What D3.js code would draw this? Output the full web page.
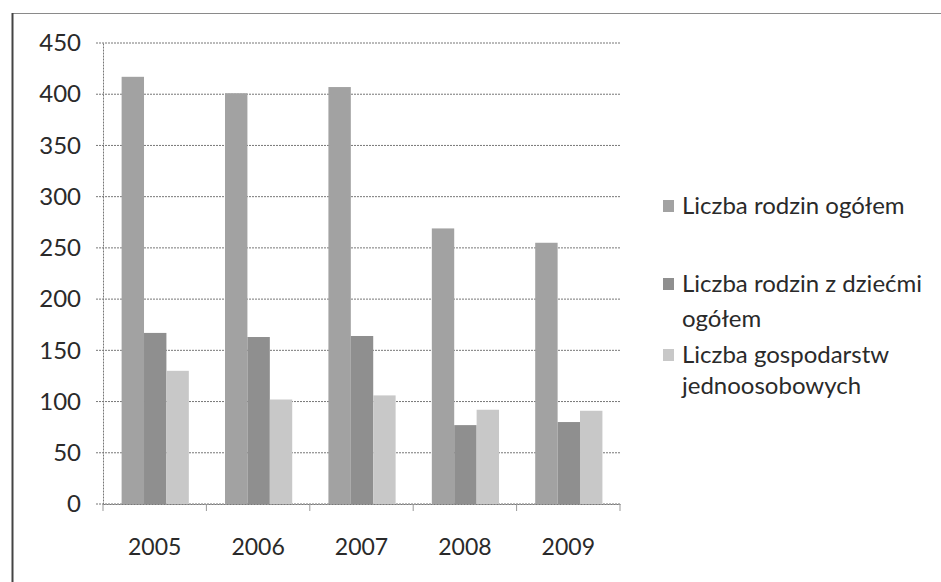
<!DOCTYPE html>
<html>
<head>
<meta charset="utf-8">
<script src="https://cdn.jsdelivr.net/npm/d3@7"></script>
<style>
  body { margin: 0; background: #fff; }
  text { font-family: Lato, "Open Sans", sans-serif; fill: #2a2a2a; }
</style>
</head>
<body>
<div id="chart"></div>
<script>
// Chart size
var svgWidth = 941;
var svgHeight = 582;

// data
var years = ["2005", "2006", "2007", "2008", "2009"];
var seriesNames = ["Liczba rodzin ogółem", "Liczba rodzin z dziećmi ogółem", "Liczba gospodarstw jednoosobowych"];
var rodziny = [417, 401, 407, 269, 255];
var rodzinyDzieci = [167, 163, 164, 77, 80];
var jednoosobowe = [130, 102, 106, 92, 91];
var yTicks = [0, 50, 100, 150, 200, 250, 300, 350, 400, 450];

var seriesColors = ["#a2a2a2", "#8f8f8f", "#c8c8c8"];
var seriesValues = [rodziny, rodzinyDzieci, jednoosobowe];

// plot area
var margin = { top: 43, left: 103 };
var width = 517;
var height = 461;

var svg = d3.select("#chart")
  .append("svg")
  .attr("width", svgWidth)
  .attr("height", svgHeight);

// scanned frame: top and left edges
svg.append("line")
  .attr("x1", 12).attr("x2", svgWidth).attr("y1", 13.5).attr("y2", 13.5)
  .attr("stroke", "#8a8a8a").attr("stroke-width", 1.2);
svg.append("line")
  .attr("x1", 12.5).attr("x2", 12.5).attr("y1", 13).attr("y2", svgHeight)
  .attr("stroke", "#444").attr("stroke-width", 2);

var chartGroup = svg.append("g")
  .attr("transform", `translate(${margin.left}, ${margin.top})`);

var x0 = d3.scaleBand().domain(years).range([0, width]).padding(0);
// bars sit a little right of centre inside each band, as in the original
var x1 = d3.scaleBand().domain(d3.range(seriesNames.length))
  .range([x0.bandwidth() * 0.18, x0.bandwidth() * 0.83]).padding(0);

var y = d3.scaleLinear().domain([0, 450]).range([height, 0]);

// gridlines
chartGroup.append("g")
  .selectAll("line")
  .data(yTicks)
  .enter()
  .append("line")
  .attr("x1", -7)
  .attr("x2", width)
  .attr("y1", d => y(d))
  .attr("y2", d => y(d))
  .attr("stroke", "#777")
  .attr("stroke-width", 1)
  .attr("stroke-dasharray", "2,1");

// y labels
var leftAxis = d3.axisLeft(y).tickValues(yTicks).tickSize(0).tickPadding(22);
var yAxisG = chartGroup.append("g").call(leftAxis);
yAxisG.select(".domain").attr("stroke", "#777").attr("stroke-dasharray", "2,1");
yAxisG.selectAll("text")
  .attr("font-size", 24)
  .style("font-family", "Lato, sans-serif")
  .attr("fill", "#2a2a2a");

// bars
var groups = chartGroup.selectAll("g.year")
  .data(years)
  .enter()
  .append("g")
  .attr("class", "year")
  .attr("transform", d => `translate(${x0(d)}, 0)`);

groups.selectAll("rect")
  .data((d, i) => seriesValues.map((vals, s) => ({ s: s, v: vals[i] })))
  .enter()
  .append("rect")
  .attr("x", d => x1(d.s))
  .attr("width", x1.bandwidth())
  .attr("y", d => y(d.v))
  .attr("height", d => height - y(d.v))
  .attr("fill", d => seriesColors[d.s]);

// x axis
var bottomAxis = d3.axisBottom(x0).tickSize(0).tickPadding(35);
var xAxisG = chartGroup.append("g")
  .attr("transform", `translate(0, ${height})`)
  .call(bottomAxis);
xAxisG.select(".domain").attr("stroke", "#777").attr("stroke-dasharray", "2,1");
xAxisG.selectAll("text")
  .attr("font-size", 23)
  .style("font-family", "Lato, sans-serif")
  .attr("fill", "#2a2a2a");

// small tick marks at band edges
chartGroup.append("g")
  .selectAll("line")
  .data(d3.range(years.length + 1))
  .enter()
  .append("line")
  .attr("x1", d => d * x0.step())
  .attr("x2", d => d * x0.step())
  .attr("y1", height)
  .attr("y2", height + 7)
  .attr("stroke", "#999");

// legend
var legendLines = [["Liczba rodzin ogółem"], ["Liczba rodzin z dziećmi", "ogółem"], ["Liczba gospodarstw", "jednoosobowych"]];
var legendY = [206, 284, 355];
var lineGap = [0, 35, 31];

var legend = svg.append("g");
legendLines.forEach(function(lines, i) {
  legend.append("rect")
    .attr("x", 663)
    .attr("y", legendY[i] - 6)
    .attr("width", 11)
    .attr("height", 12)
    .attr("fill", seriesColors[i]);
  lines.forEach(function(line, j) {
    legend.append("text")
      .attr("x", 682)
      .attr("y", legendY[i] + j * lineGap[i])
      .attr("dy", "0.35em")
      .attr("font-size", 24)
      .text(line);
  });
});
</script>
</body>
</html>
